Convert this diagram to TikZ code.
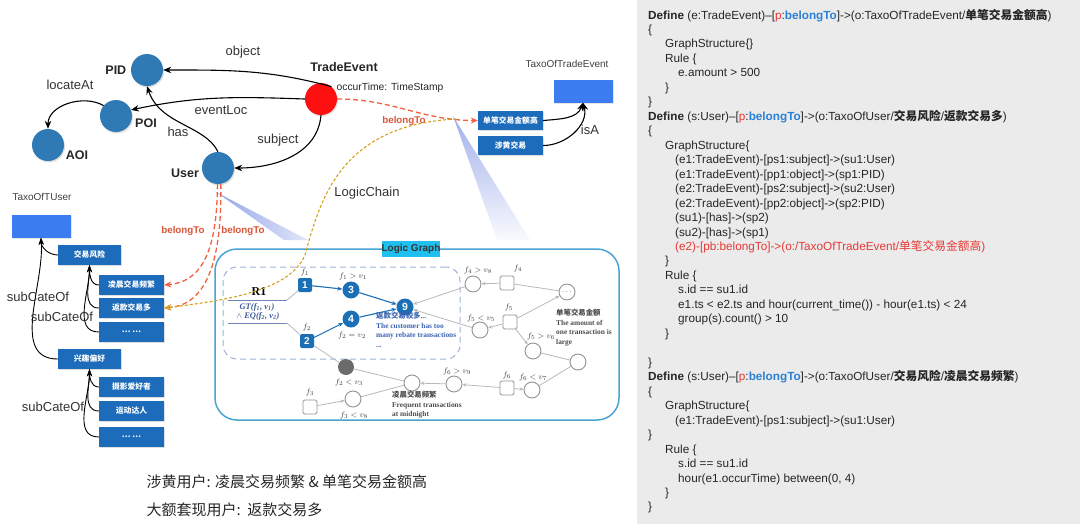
\documentclass[tikz,border=0pt]{standalone}
\usepackage[no-math]{fontspec}
\setmainfont{Liberation Sans}
\newfontfamily\cjk{Noto Sans CJK SC}
\newfontfamily\serif{Liberation Serif}
\usetikzlibrary{arrows.meta,positioning,shadows}

\definecolor{entblue}{HTML}{2F7AB4}
\definecolor{tered}{HTML}{FF1010}
\definecolor{taxoblue}{HTML}{3B7CF0}
\definecolor{catblue}{HTML}{1C6CBB}
\definecolor{belongred}{HTML}{F2603F}
\definecolor{chainyel}{HTML}{D4A020}
\definecolor{wedge}{HTML}{8A9CE6}
\definecolor{lgframe}{HTML}{4BA3D3}
\definecolor{lgtitle}{HTML}{1FC0EF}
\definecolor{dashblue}{HTML}{9DB0D8}
\definecolor{lgblue}{HTML}{1A6FB5}
\definecolor{lggray}{HTML}{B8B8B8}
\definecolor{rulecol}{HTML}{6F86B8}
\definecolor{gtblue}{HTML}{3B5A9A}
\definecolor{notblue}{HTML}{3A62B0}
\definecolor{codebg}{HTML}{EBEBEB}
\definecolor{codered}{HTML}{E53935}
\definecolor{codeblue}{HTML}{2B7FD4}

\newcommand\zh[1]{{\cjk #1}}
\newcommand\zhb[1]{{\cjk\bfseries #1}}
\newcommand\kwp[1]{{\color{codered}#1}}
\newcommand\kwb[1]{{\color{codeblue}\bfseries #1}}

\begin{document}
\begin{tikzpicture}[x=1pt,y=-1pt,
  font=\fontsize{13}{15}\selectfont,
  ent/.style={circle,fill=entblue,minimum size=32pt,inner sep=0pt,
    drop shadow={opacity=0.25,shadow xshift=1pt,shadow yshift=-1.5pt}},
  entname/.style={font=\bfseries\fontsize{12.5}{14}\selectfont,text=black!85},
  rel/.style={-{Stealth[length=8pt,width=6.5pt]},line width=1.1pt},
  relname/.style={text=black!80},
  taxo/.style={fill=taxoblue,minimum width=59pt,minimum height=23pt,inner sep=0pt,
    drop shadow={opacity=0.2,shadow xshift=1pt,shadow yshift=-1pt}},
  taxoname/.style={font=\fontsize{10}{12}\selectfont,text=black!75},
  cat/.style={fill=catblue,text=white,minimum width=63pt,minimum height=20pt,inner sep=0pt,
    font=\cjk\bfseries\fontsize{7.8}{9}\selectfont,
    drop shadow={opacity=0.25,shadow xshift=1pt,shadow yshift=-1pt}},
  subcat/.style={cat,minimum width=65pt},
  sub/.style={-{Stealth[length=7pt,width=5pt]},line width=0.9pt},
  belong/.style={belongred,line width=1.3pt,dash pattern=on 5pt off 3pt,-{Stealth[length=7pt,width=6pt]}},
  belongname/.style={text=belongred!90!black,font=\bfseries\fontsize{9.8}{12}\selectfont},
  chain/.style={chainyel,line width=1.1pt,dash pattern=on 3pt off 2pt,-{Stealth[length=7pt,width=6pt]}},
  fsq/.style={draw=lggray!80!black,fill=white,line width=0.9pt,minimum size=14pt,inner sep=0pt,rounded corners=1.5pt},
  cond/.style={circle,draw=lggray!80!black,fill=white,line width=0.9pt,minimum size=16pt,inner sep=0pt},
  bsq/.style={fill=lgblue,text=white,minimum size=14pt,inner sep=0pt,rounded corners=2pt,font=\bfseries\fontsize{10}{12}\selectfont},
  bci/.style={circle,fill=lgblue,text=white,minimum size=17pt,inner sep=0pt,font=\bfseries\fontsize{10.5}{12}\selectfont},
  flabel/.style={font=\fontsize{8.5}{10}\selectfont,text=black!75,inner sep=1pt},
  rulelabel/.style={text=gtblue,font=\serif\bfseries\itshape\fontsize{8.5}{10}\selectfont,inner sep=1pt},
  gedge/.style={lggray,line width=0.8pt,-{Stealth[length=4pt,width=3.5pt]}},
  gline/.style={lggray,line width=0.8pt},
  bedge/.style={lgblue,line width=1.1pt,-{Stealth[length=5pt,width=4pt]}},
  lgnote/.style={anchor=north west,align=left,font=\serif\bfseries\fontsize{7.4}{9.5}\selectfont,inner sep=0pt},
  codeln/.style={anchor=base west,inner sep=0pt,font=\fontsize{11.75}{14}\selectfont,text=black!85}
]
\useasboundingbox (0,0) rectangle (1080,528);

% code panel on the right
\fill[codebg] (637,0) rectangle (1080,524);
\foreach \dx/\codetxt [count=\i from 0] in {
  0/{\textbf{Define} (e:TradeEvent)–[\kwp{p}:\kwb{belongTo}]->(o:TaxoOfTradeEvent/\zhb{单笔交易金额高})},
  0/{\{},
  17/{GraphStructure\{\}},
  17/{Rule \{},
  30/{e.amount > 500},
  17/{\}},
  0/{\}},
  0/{\textbf{Define} (s:User)–[\kwp{p}:\kwb{belongTo}]->(o:TaxoOfUser/\zhb{交易风险}/\zhb{返款交易多})},
  0/{\{},
  17/{GraphStructure\{},
  27/{(e1:TradeEvent)-[ps1:subject]->(su1:User)},
  27/{(e1:TradeEvent)-[pp1:object]->(sp1:PID)},
  27/{(e2:TradeEvent)-[ps2:subject]->(su2:User)},
  27/{(e2:TradeEvent)-[pp2:object]->(sp2:PID)},
  27/{(su1)-[has]->(sp2)},
  27/{(su2)-[has]->(sp1)},
  27/{\color{codered}(e2)-[pb:belongTo]->(o:/TaxoOfTradeEvent/\zh{单笔交易金额高})},
  17/{\}},
  17/{Rule \{},
  30/{s.id == su1.id},
  30/{e1.ts < e2.ts and hour(current\_time()) - hour(e1.ts) < 24},
  30/{group(s).count() > 10},
  17/{\}},
  0/{},
  0/{\}},
  0/{\textbf{Define} (s:User)–[\kwp{p}:\kwb{belongTo}]->(o:TaxoOfUser/\zhb{交易风险}/\zhb{凌晨交易频繁})},
  0/{\{},
  17/{GraphStructure\{},
  27/{(e1:TradeEvent)-[ps1:subject]->(su1:User)},
  0/{\}},
  17/{Rule \{},
  30/{s.id == su1.id},
  30/{hour(e1.occurTime) between(0, 4)},
  17/{\}},
  0/{\}}}
  \node[codeln] (code\i) at (648+\dx,19+14.47*\i) {\codetxt};

% zoom wedges
\shade[top color=wedge!80,bottom color=wedge!5] (453,116) -- (497,240) -- (530,240) -- cycle;
\shade[left color=wedge!90,right color=wedge!25] (216,192) -- (284,240) -- (308,240) -- cycle;

% entity graph
\node[ent] (pid) at (147,70) {};
\node[entname,left=1pt of pid] (pidname) {PID};
\node[ent] (poi) at (116,116) {};
\node[entname] (poiname) at (146,123) {POI};
\node[ent] (aoi) at (48,145) {};
\node[entname] (aoiname) at (77,155) {AOI};
\node[ent] (user) at (218,168) {};
\node[entname] (username) at (185,173) {User};
\node[ent,fill=tered] (te) at (321,99) {};
\node[entname] (tename) at (344,67) {TradeEvent};
\node[font=\fontsize{10.3}{12}\selectfont,text=black!85] (tetime) at (390,88) {occurTime: TimeStamp};

\draw[rel] (te.50) to[out=165,in=0] (pid.east);
\node[relname] (objname) at (243,52) {object};
\draw[rel] (te.west) to[out=178,in=12] (poi.22);
\node[relname] (evname) at (221,110) {eventLoc};
\draw[rel] (te.south) to[out=-95,in=0] (user.east);
\node[relname] (subjname) at (278,140) {subject};
\draw[rel] (user.north) .. controls (205,125) and (160,125) .. (pid.south);
\node[relname] (hasname) at (178,132) {has};
\draw[rel] (poi.140) to[out=150,in=90] (aoi.north);
\node[relname] (locname) at (70,85) {locateAt};

% trade event taxonomy
\node[taxoname] (taxtname) at (567,64) {TaxoOfTradeEvent};
\node[taxo] (taxt) at (583,91) {};
\node[subcat,minimum height=19pt] (bigamt) at (510.5,120.5) {单笔交易金额高};
\node[subcat,minimum height=19pt] (porn) at (510.5,145.5) {涉黄交易};
\draw[rel] (bigamt.east) to[out=5,in=-110] (taxt.south);
\draw[rel] (porn.east) to[out=0,in=-75] (taxt.south);
\node[relname] (isaname) at (590,130) {isA};

% user taxonomy
\node[taxoname] (taxuname) at (42,197) {TaxoOfTUser};
\node[taxo] (taxu) at (41,226) {};
\node[cat] (risk) at (89.5,255) {交易风险};
\node[subcat] (night) at (131.5,285) {凌晨交易频繁};
\node[subcat] (refund) at (131.5,308) {返款交易多};
\node[subcat] (riskmore) at (131.5,332) {…\ …};
\node[cat] (pref) at (89.5,359) {兴趣偏好};
\node[subcat] (photo) at (131.5,387) {摄影爱好者};
\node[subcat] (sport) at (131.5,411) {运动达人};
\node[subcat] (prefmore) at (131.5,437) {…\ …};
\draw[sub] (risk.west) to[out=180,in=-90] (taxu.south);
\draw[sub] (pref.west) to[out=180,in=-86] (taxu.south);
\foreach \c in {night,refund,riskmore}
  \draw[sub] (\c.west) to[out=180,in=-90] (risk.south);
\foreach \c in {photo,sport,prefmore}
  \draw[sub] (\c.west) to[out=180,in=-90] (pref.south);
\node[relname] (subname1) at (38,297) {subCateOf};
\node[relname] (subname2) at (62,317) {subCateOf};
\node[relname] (subname3) at (53,407) {subCateOf};

% logic graph
\node[draw=lgframe,line width=1.5pt,rounded corners=22pt,minimum width=404pt,minimum height=171pt,inner sep=0pt] (lgbox) at (417,334.5) {};
\node[fill=lgtitle,font=\bfseries\fontsize{10}{11}\selectfont,text=black!80,minimum width=58pt,minimum height=16pt,inner sep=0pt] (lgtitle) at (411,249) {Logic Graph};
\node[draw=dashblue,line width=1pt,dash pattern=on 6pt off 4pt,rounded corners=14pt,minimum width=237pt,minimum height=92pt] (r1box) at (341.5,313) {};

\node[font=\serif\bfseries\fontsize{12}{14}\selectfont] (r1) at (259,292) {R1};
\coordinate (rtl) at (228,300);
\coordinate (rtr) at (287,300);
\coordinate (rbl) at (228,323);
\coordinate (rbr) at (287,323);
\draw[rulecol,line width=0.9pt] (rtl) -- (rtr);
\draw[rulecol,line width=0.9pt] (rbl) -- (rbr);
\node[rulelabel] (gtlabel) at (257,307) {GT(f\textsubscript{1}, v\textsubscript{1})};
\node[rulelabel] (eqlabel) at (258,316) {$\wedge$ EQ(f\textsubscript{2}, v\textsubscript{2})};

\node[bsq] (n1) at (305,285) {1};
\node[bci] (n3) at (351,290) {3};
\node[bci] (n9) at (405,307) {9};
\node[bci] (n4) at (351,319) {4};
\node[bsq] (n2) at (307,341) {2};
\node[flabel] (f1l) at (305,272) {$f_1$};
\node[flabel] (n3l) at (353,276) {$f_1 > v_1$};
\node[flabel] (f2l) at (307,327) {$f_2$};
\node[flabel] (n4l) at (352,335) {$f_2 = v_2$};

\node[circle,fill=black!58,minimum size=16pt,inner sep=0pt] (c23) at (346,367) {};
\node[flabel] (c23l) at (349,382) {$f_2 < v_3$};
\node[cond] (nightc) at (412,383) {};
\node[fsq] (f3) at (310,407) {};
\node[flabel] (f3l) at (310,392) {$f_3$};
\node[cond] (c38) at (353,399) {};
\node[flabel] (c38l) at (354,415) {$f_3 < v_8$};
\node[cond] (c69) at (454,384) {};
\node[flabel] (c69l) at (457,371) {$f_6 > v_9$};
\node[fsq] (f6) at (507,388) {};
\node[flabel] (f6l) at (507,375) {$f_6$};
\node[cond] (c67) at (532,390) {};
\node[flabel] (c67l) at (533,377) {$f_6 < v_7$};
\node[cond] (amtb) at (578,362) {};
\node[cond] (c56) at (533,351) {};
\node[flabel] (c56l) at (541,336) {$f_5 > v_6$};
\node[fsq] (f5) at (510,322) {};
\node[flabel] (f5l) at (509,307) {$f_5$};
\node[cond] (c55) at (480,330) {};
\node[flabel] (c55l) at (481,318) {$f_5 < v_5$};
\node[fsq] (f4) at (507,283) {};
\node[flabel] (f4l) at (518,268) {$f_4$};
\node[cond] (c48) at (473,284) {};
\node[flabel] (c48l) at (478,270) {$f_4 > v_8$};
\node[cond,font=\fontsize{7}{7}\selectfont] (amt) at (567,292) {$\cdots$};

\draw[gline] (rtr) -- (n1);
\draw[gline] (rbr) -- (n2);
\draw[bedge] (n1) -- (n3);
\draw[bedge] (n3) -- (n9);
\draw[bedge] (n2) -- (n4);
\draw[bedge] (n4) -- (n9);
\draw[gline] (n2) -- (c23);
\draw[gline] (c23) -- (nightc);
\draw[gedge] (f3) -- (c38);
\draw[gline] (c38) -- (nightc);
\draw[gedge] (c69) -- (nightc);
\draw[gedge] (f6) -- (c69);
\draw[gedge] (f6) -- (c67);
\draw[gline] (c67) -- (amtb);
\draw[gline] (c56) -- (amtb);
\draw[gedge] (f5) -- (c56);
\draw[gedge] (f5) -- (c55);
\draw[gedge] (f5) -- (amt);
\draw[gline] (f4) -- (amt);
\draw[gedge] (f4) -- (c48);
\draw[gedge] (c48) -- (n9);
\draw[gedge] (c55) -- (n9);

\node[lgnote,text=notblue] (n9note) at (376,312) {\zh{返款交易较多}...\\The customer has too\\many rebate transactions\\...};
\node[lgnote,text=black!70] (nightnote) at (392,391) {\zh{凌晨交易频繁}\\Frequent transactions\\at midnight};
\node[lgnote,text=black!70] (amtnote) at (556,309) {\zh{单笔交易金额}\\The amount of\\one transaction is\\large};

% belongTo and logic chain links
\draw[belong] (te.east) to[out=0,in=180] (bigamt.west);
\node[belongname] (tebelong) at (404,121) {belongTo};
\draw[belong] (user.-92) .. controls (217,255) and (200,282) .. (night.east);
\draw[belong] (user.-80) .. controls (222,265) and (205,305) .. (refund.east);
\node[belongname] (ubelong1) at (183,231) {belongTo};
\node[belongname] (ubelong2) at (243,231) {belongTo};
\coordinate (chainstart) at (456,119);
\draw[chain] (chainstart) .. controls (340,125) and (320,200) .. (305,255) .. controls (290,290) and (230,300) .. (refund.east);
\node[relname] (chainname) at (367,193) {LogicChain};

% summary
\node[anchor=west,font=\cjk\fontsize{15}{18}\selectfont,text=black!85] (sum1) at (143,482) {涉黄用户: 凌晨交易频繁 \& 单笔交易金额高};
\node[anchor=west,font=\cjk\fontsize{15}{18}\selectfont,text=black!85] (sum2) at (143,510) {大额套现用户:\ \ 返款交易多};
\end{tikzpicture}
\end{document}
